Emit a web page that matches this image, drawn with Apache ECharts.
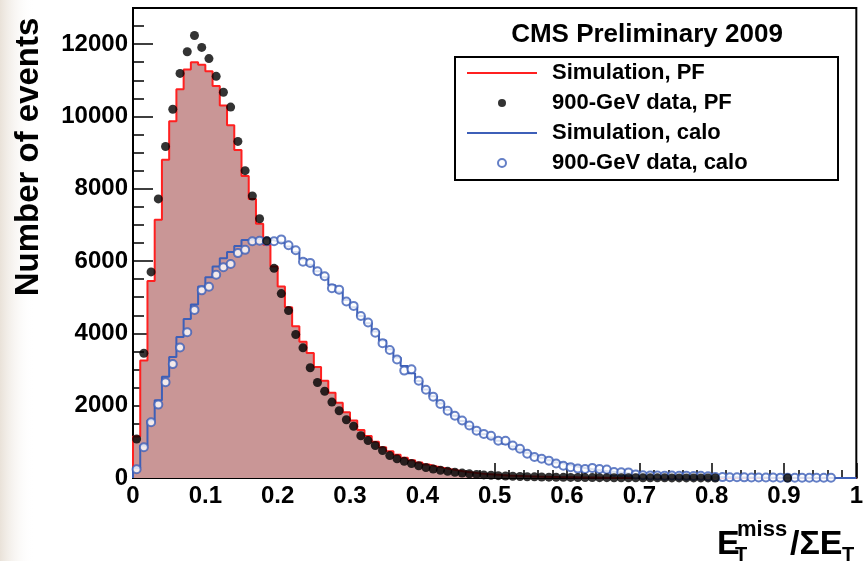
<!DOCTYPE html>
<html>
<head>
<meta charset="utf-8">
<script src="https://cdn.jsdelivr.net/npm/echarts@6/dist/echarts.min.js"></script>
<style>
  html, body { margin: 0; padding: 0; background: #ffffff; }
  #chart { width: 866px; height: 561px; }
</style>
</head>
<body>
<div id="chart"></div>
<script>
// Histogram binning: 100 bins of width 0.01 on [0, 1]
const binWidth = 0.01;
const xRange = [0, 1];
const yRange = [0, 13000];
const yMajorStep = 2000;
const yMinorStep = 500;

// Simulation, particle-flow MET/SumET (red filled histogram)
const simPF = [
  1150, 3250, 5450, 7140, 8800, 9870, 10750, 11300, 11500, 11430,
  11250, 10840, 10300, 9760, 9070, 8350, 7720, 7030, 6450, 5850,
  5300, 4720, 4200, 3770, 3460, 3070, 2690, 2360, 2080, 1820,
  1590, 1330, 1160, 1000, 850, 740, 640, 560, 490, 430,
  370, 320, 280, 240, 205, 175, 150, 128, 110, 95,
  82, 70, 60, 52, 45, 39, 34, 29, 25, 22,
  19, 16, 14, 12, 10, 9, 8, 7, 6, 5,
  4, 4, 3, 3, 2, 2, 2, 2, 1, 1,
  1, 1, 1, 1, 1, 1, 0, 0, 0, 0,
  0, 0, 0, 0, 0, 0, 0, 0, 0, 0
];

// 900 GeV collision data, particle flow (black points)
const dataPF = [
  1080, 3450, 5700, 7720, 9170, 10200, 11190, 11790, 12240, 11910,
  11600, 11110, 10670, 10260, 9310, 8500, 7800, 7170, 6560, 5800,
  5100, 4630, 3970, 3600, 3050, 2640, 2400, 2100, 1860, 1610,
  1430, 1170, 1035, 900, 760, 620, 530, 460, 400, 340,
  290, 250, 215, 185, 160, 135, 115, 100, 85, 75,
  65, 55, 48, 42, 36, 32, 28, 24, 21, 18,
  16, 14, 12, 11, 10, 9, 8, 7, 6, 6,
  5, 5, 4, 4, 3, 3, 3, 2, 2, 2,
  1, null, null, null, null, null, null, null, null, null,
  1, null, null, null, null, null, null, null, null, null
];

// Simulation, calorimeter MET/SumET (blue step line)
const simCalo = [
  280, 900, 1600, 2150, 2800, 3350, 3900, 4400, 4800, 5300,
  5550, 5850, 6080, 6250, 6420, 6580, 6620, 6620, 6600, 6550,
  6500, 6400, 6250, 6050, 5900, 5720, 5550, 5330, 5150, 4920,
  4720, 4480, 4280, 4050, 3800, 3560, 3330, 3100, 2900, 2680,
  2450, 2260, 2060, 1880, 1720, 1580, 1440, 1310, 1210, 1120,
  1030, 950, 870, 790, 700, 620, 560, 490, 430, 380,
  330, 290, 260, 230, 200, 180, 160, 140, 120, 105,
  90, 80, 70, 62, 55, 48, 42, 36, 32, 28,
  24, 20, 18, 16, 14, 12, 11, 10, 9, 8,
  7, 6, 5, 5, 4, 4, 3, 3, 2, 2
];

// 900 GeV collision data, calorimeter (blue open circles)
const dataCalo = [
  240, 850, 1540, 2030, 2650, 3150, 3610, 4030, 4650, 5190,
  5290, 5620, 5830, 5920, 6220, 6310, 6550, 6560, 6550, 6550,
  6600, 6440, 6300, 5980, 5950, 5720, 5580, 5250, 5210, 4880,
  4760, 4480, 4300, 4020, 3730, 3540, 3280, 2970, 3010, 2690,
  2440, 2250, 2050, 1860, 1720, 1590, 1450, 1310, 1220, 1170,
  1030, 1030, 900, 810, 670, 580, 530, 480, 400, 340,
  300, 260, 250, 280, 250, 235, 165, 160, 155, 100,
  75, 70, 70, 65, 70, 60, 65, 55, 60, 50,
  30, 25, 20, 20, 18, 15, 15, 12, 12, 10,
  10, 8, 8, 6, 6, 5, 5, null, null, null
];

const seriesNames = ['Simulation, PF', '900-GeV data, PF', 'Simulation, calo', '900-GeV data, calo'];
const headerText = 'CMS Preliminary 2009';
const yTitle = 'Number of events';

const FONT = "'Liberation Sans', Arial, Helvetica, sans-serif";
const RED = '#ff2020';
const FILL = '#c99696';
const BLUE = '#3d5fb8';

// Histogram outline: one point per lower bin edge, drawn as a step line
function stepPoints(values) {
  const pts = [[0, 0]];
  values.forEach((v, i) => pts.push([i * binWidth, v]));
  pts.push([values.length * binWidth, values[values.length - 1]]);
  return pts;
}
// Data points sit at bin centres; empty bins are skipped
function centrePoints(values) {
  const pts = [];
  values.forEach((v, i) => { if (v != null) pts.push([(i + 0.5) * binWidth, v]); });
  return pts;
}

const chart = echarts.init(document.getElementById('chart'), null, { renderer: 'canvas' });

const labelStyle = { color: '#000', fontFamily: FONT, fontWeight: 'bold', fontSize: 24 };
const tickLine = { color: '#000', width: 1.5 };
// thin bar used as the legend key for the histogram outlines
const lineKey = 'path://M0,0H70V2.2H0Z';

chart.setOption({
  animation: false,
  backgroundColor: '#ffffff',
  grid: [
    { left: 133, top: 8, width: 729, height: 470, show: true, borderColor: '#000', borderWidth: 2, backgroundColor: 'rgba(0,0,0,0)' },
    { left: 133, top: 8, width: 729, height: 470 }
  ],
  xAxis: [
    {
      gridIndex: 0, type: 'value', min: xRange[0], max: xRange[1], interval: 0.1,
      axisLine: { lineStyle: { color: '#000', width: 2 } },
      axisTick: { inside: true, length: 15, lineStyle: tickLine },
      minorTick: { show: true, splitNumber: 5, length: 8, lineStyle: tickLine },
      axisLabel: Object.assign({ margin: 6, formatter: v => String(v) }, labelStyle),
      splitLine: { show: false }
    },
    { gridIndex: 1, type: 'value', min: xRange[0], max: xRange[1], show: false }
  ],
  yAxis: [
    {
      gridIndex: 0, type: 'value', min: yRange[0], max: yRange[1], interval: yMajorStep,
      axisLine: { show: true, lineStyle: { color: '#000', width: 2 } },
      axisTick: { inside: true, length: 20, lineStyle: tickLine },
      axisLabel: Object.assign({ margin: 5, showMaxLabel: false, formatter: v => String(v) }, labelStyle),
      splitLine: { show: false },
      name: yTitle,
      nameLocation: 'middle',
      nameGap: 88,
      nameTextStyle: { color: '#000', fontFamily: FONT, fontWeight: 'bold', fontSize: 33, padding: [0, 0, 0, 172] }
    },
    {
      gridIndex: 1, type: 'value', min: yRange[0], max: yRange[1], interval: yMinorStep,
      axisLine: { show: false },
      axisTick: { inside: true, length: 11, lineStyle: tickLine },
      axisLabel: { show: false },
      splitLine: { show: false }
    }
  ],
  legend: {
    orient: 'vertical', left: 467, top: 61, padding: 0,
    itemWidth: 70, itemHeight: 8, itemGap: 6,
    selectedMode: false,
    textStyle: { color: '#000', fontFamily: FONT, fontWeight: 'bold', fontSize: 22, lineHeight: 24, padding: [0, 0, 0, 10] },
    data: [
      { name: seriesNames[0], icon: lineKey },
      { name: seriesNames[1], icon: 'circle' },
      { name: seriesNames[2], icon: lineKey },
      { name: seriesNames[3], icon: 'emptyCircle' }
    ]
  },
  graphic: [
    // faint tint along the left edge of the canvas
    { type: 'rect', shape: { x: 0, y: 0, width: 34, height: 561 }, z: -10, silent: true,
      style: { fill: new echarts.graphic.LinearGradient(0, 0, 1, 0, [
        { offset: 0, color: 'rgba(226,216,204,0.75)' },
        { offset: 1, color: 'rgba(255,255,255,0)' }
      ]) } },
    { type: 'rect', shape: { x: 455, y: 57, width: 383, height: 123 }, style: { fill: 'none', stroke: '#000', lineWidth: 2 }, z: 10 },
    { type: 'text', x: 647, y: 35, style: { text: headerText, fill: '#000', font: "bold 26px " + FONT, align: 'center', verticalAlign: 'middle' }, z: 10 },
    // x-axis title: E_T^miss / ΣE_T
    { type: 'text', x: 717, y: 545, style: { text: 'E', fill: '#000', font: "bold 34px " + FONT, align: 'left', verticalAlign: 'middle' } },
    { type: 'text', x: 737, y: 530, style: { text: 'miss', fill: '#000', font: "bold 22px " + FONT, align: 'left', verticalAlign: 'middle' } },
    { type: 'text', x: 735, y: 555, style: { text: 'T', fill: '#000', font: "bold 20px " + FONT, align: 'left', verticalAlign: 'middle' } },
    { type: 'text', x: 790, y: 545, style: { text: '/\u03A3E', fill: '#000', font: "bold 34px " + FONT, align: 'left', verticalAlign: 'middle' } },
    { type: 'text', x: 842, y: 555, style: { text: 'T', fill: '#000', font: "bold 20px " + FONT, align: 'left', verticalAlign: 'middle' } }
  ],
  series: [
    {
      name: seriesNames[0], type: 'line', xAxisIndex: 0, yAxisIndex: 0,
      data: stepPoints(simPF), step: 'end', symbol: 'none',
      lineStyle: { color: RED, width: 2 }, itemStyle: { color: RED },
      areaStyle: { color: FILL, opacity: 1 }, z: 2
    },
    {
      name: seriesNames[2], type: 'line', xAxisIndex: 0, yAxisIndex: 0,
      data: stepPoints(simCalo), step: 'end', symbol: 'none',
      lineStyle: { color: BLUE, width: 2 }, itemStyle: { color: BLUE }, z: 3
    },
    {
      name: seriesNames[3], type: 'scatter', xAxisIndex: 0, yAxisIndex: 0,
      data: centrePoints(dataCalo), symbol: 'emptyCircle', symbolSize: 8,
      itemStyle: { color: BLUE, borderColor: BLUE, borderWidth: 2 }, z: 4
    },
    {
      name: seriesNames[1], type: 'scatter', xAxisIndex: 0, yAxisIndex: 0,
      data: centrePoints(dataPF), symbol: 'circle', symbolSize: 9,
      itemStyle: { color: '#000' }, z: 5
    }
  ]
});
</script>
</body>
</html>
